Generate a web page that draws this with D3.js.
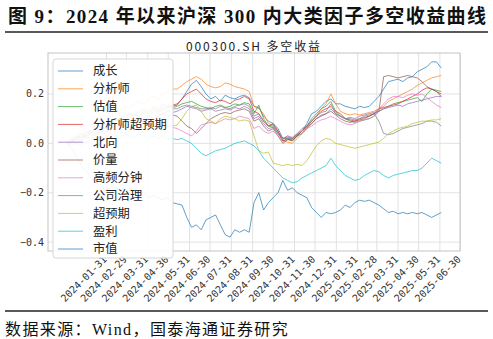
<!DOCTYPE html>
<html>
<head>
<meta charset="utf-8">
<script src="https://cdn.jsdelivr.net/npm/d3@7/dist/d3.min.js"></script>
<style>
  body { margin: 0; background: #fff; }
</style>
</head>
<body>
<svg id="chart"></svg>
<script>
// Weekly sample dates
var dates = ["2023-12-04","2023-12-11","2023-12-18","2023-12-25",
  "2024-01-01","2024-01-08","2024-01-15","2024-01-22","2024-01-29",
  "2024-02-05","2024-02-12","2024-02-19","2024-02-26",
  "2024-03-04","2024-03-11","2024-03-18","2024-03-25",
  "2024-04-01","2024-04-08","2024-04-15","2024-04-22","2024-04-29",
  "2024-05-06","2024-05-13","2024-05-20","2024-05-27",
  "2024-06-03","2024-06-10","2024-06-17","2024-06-24",
  "2024-07-01","2024-07-08","2024-07-15","2024-07-22","2024-07-29",
  "2024-08-05","2024-08-12","2024-08-19","2024-08-26",
  "2024-09-02","2024-09-09","2024-09-16","2024-09-23","2024-09-30",
  "2024-10-07","2024-10-14","2024-10-21","2024-10-28",
  "2024-11-04","2024-11-11","2024-11-18","2024-11-25",
  "2024-12-02","2024-12-09","2024-12-16","2024-12-23","2024-12-30",
  "2025-01-06","2025-01-13","2025-01-20","2025-01-27",
  "2025-02-03","2025-02-10","2025-02-17","2025-02-24",
  "2025-03-03","2025-03-10","2025-03-17","2025-03-24","2025-03-31",
  "2025-04-07","2025-04-14","2025-04-21","2025-04-28",
  "2025-05-05","2025-05-12","2025-05-19","2025-05-26","2025-06-02"];

// Long-short returns per factor
var chengzhang = [0,0.01,0.03,0.02,0.04,0.05,0.04,0.06,0.08,0.07,0.09,0.10,0.09,0.11,0.12,0.11,0.13,0.12,0.14,0.13,0.15,0.14,0.15,
  0.155,0.18,0.21,0.24,0.255,0.23,0.20,0.18,0.19,0.17,0.195,0.185,0.18,0.19,0.195,0.185,
  0.15,0.145,0.11,0.09,0.08,0.06,0.02,0.02,0.015,0.03,0.05,0.08,0.12,0.13,0.15,0.17,0.18,0.16,
  0.16,0.15,0.145,0.14,0.15,0.145,0.15,0.17,0.19,0.22,0.25,0.255,0.26,0.25,0.265,0.27,0.29,0.30,0.31,0.33,0.33,0.305];
var fenxishi = [0,0.02,0.03,0.05,0.06,0.08,0.07,0.09,0.11,0.10,0.12,0.13,0.15,0.14,0.16,0.17,0.16,0.18,0.19,0.18,0.20,0.21,0.22,
  0.22,0.235,0.25,0.26,0.27,0.26,0.24,0.23,0.225,0.23,0.245,0.24,0.23,0.225,0.22,0.21,
  0.15,0.14,0.12,0.08,0.07,0.05,0.01,0.005,0,0.02,0.04,0.06,0.09,0.11,0.14,0.16,0.20,0.16,
  0.13,0.12,0.115,0.12,0.115,0.12,0.125,0.13,0.14,0.15,0.17,0.18,0.19,0.20,0.21,0.22,0.235,0.245,0.255,0.265,0.27,0.275];
var guzhi = [0,0.02,0.01,0.03,0.05,0.04,0.06,0.07,0.06,0.08,0.09,0.10,0.09,0.11,0.12,0.11,0.13,0.12,0.14,0.13,0.14,0.15,0.145,
  0.15,0.16,0.165,0.17,0.16,0.15,0.145,0.14,0.15,0.155,0.145,0.15,0.16,0.155,0.165,0.16,
  0.12,0.155,0.10,0.07,0.065,0.04,0.01,0.02,0.01,0.03,0.05,0.07,0.10,0.12,0.14,0.15,0.17,0.13,
  0.11,0.10,0.09,0.085,0.09,0.095,0.10,0.11,0.13,0.14,0.15,0.16,0.165,0.17,0.175,0.18,0.185,0.17,0.20,0.22,0.215,0.21];
var fxsChaoyuqi = [0,0.01,0.02,0.04,0.03,0.05,0.06,0.05,0.07,0.08,0.10,0.09,0.11,0.12,0.11,0.13,0.14,0.13,0.15,0.14,0.16,0.15,0.155,
  0.16,0.18,0.20,0.21,0.22,0.20,0.18,0.17,0.165,0.175,0.17,0.16,0.175,0.18,0.19,0.18,
  0.13,0.12,0.09,0.07,0.08,0.05,0.01,0.015,0.02,0.035,0.05,0.07,0.09,0.11,0.13,0.14,0.15,0.13,
  0.12,0.10,0.095,0.09,0.095,0.10,0.11,0.12,0.14,0.145,0.15,0.155,0.16,0.17,0.18,0.19,0.20,0.215,0.225,0.22,0.21,0.20];
var beixiang = [0,0.01,0,0.02,0.03,0.02,0.04,0.05,0.04,0.06,0.07,0.08,0.07,0.09,0.10,0.09,0.11,0.10,0.12,0.11,0.12,0.13,0.125,
  0.13,0.14,0.15,0.145,0.14,0.13,0.135,0.14,0.13,0.135,0.14,0.135,0.145,0.14,0.15,0.14,
  0.10,0.11,0.08,0.06,0.065,0.04,0.02,0.03,0.02,0.035,0.05,0.065,0.08,0.10,0.115,0.12,0.14,0.12,
  0.11,0.10,0.105,0.10,0.11,0.115,0.12,0.125,0.13,0.14,0.145,0.15,0.155,0.15,0.16,0.165,0.17,0.175,0.18,0.185,0.19,0.19];
var jialiang = [0,0.01,0.02,0.01,0.03,0.04,0.03,0.05,0.06,0.05,0.07,0.08,0.07,0.09,0.08,0.10,0.09,0.11,0.10,0.11,0.12,0.11,0.115,
  0.11,0.09,0.07,0.06,0.04,0.06,0.08,0.10,0.11,0.12,0.125,0.12,0.13,0.135,0.14,0.13,
  0.09,0.10,0.07,0.05,0.06,0.03,0,0.015,0.01,0.03,0.04,0.06,0.08,0.10,0.11,0.12,0.13,0.115,
  0.10,0.09,0.085,0.09,0.10,0.105,0.11,0.12,0.13,0.27,0.275,0.27,0.265,0.27,0.275,0.27,0.265,0.25,0.23,0.22,0.21,0.19];
var gaopin = [0,-0.01,0,0.01,0,0.02,0.01,0.03,0.02,0.04,0.03,0.05,0.04,0.06,0.05,0.07,0.06,0.05,0.07,0.06,0.08,0.07,0.065,
  0.06,0.05,0.04,0.03,0.05,0.075,0.08,0.085,0.08,0.09,0.10,0.095,0.10,0.11,0.105,0.10,
  0.06,0.07,0.05,0.04,0.05,0.03,0.015,0.03,0.025,0.04,0.05,0.06,0.07,0.085,0.095,0.10,0.11,0.10,
  0.09,0.08,0.075,0.08,0.09,0.095,0.10,0.11,0.14,0.16,0.18,0.19,0.19,0.185,0.195,0.20,0.195,0.20,0.185,0.17,0.155,0.145];
var zhili = [0,0,0.02,0.03,0.02,0.04,0.05,0.04,0.06,0.07,0.08,0.07,0.09,0.10,0.09,0.11,0.12,0.11,0.13,0.12,0.14,0.13,0.14,
  0.14,0.15,0.155,0.15,0.145,0.14,0.14,0.145,0.14,0.15,0.145,0.14,0.15,0.155,0.16,0.15,
  0.11,0.12,0.09,0.07,0.075,0.045,0.02,0.025,0.02,0.04,0.06,0.07,0.09,0.11,0.125,0.13,0.16,0.12,
  0.11,0.10,0.10,0.095,0.10,0.11,0.115,0.12,0.09,0.04,0.035,0.04,0.05,0.06,0.065,0.07,0.075,0.08,0.09,0.09,0.085,0.07];
var chaoyuqi = [0,0.01,0.02,0.01,0.03,0.02,0.04,0.03,0.05,0.04,0.06,0.05,0.07,0.06,0.08,0.07,0.06,0.08,0.07,0.09,0.08,0.07,0.07,
  0.075,0.10,0.13,0.15,0.155,0.13,0.10,0.09,0.08,0.10,0.11,0.105,0.10,0.09,0.095,0.09,
  0.03,-0.03,-0.04,-0.035,-0.08,-0.085,-0.09,-0.085,-0.09,-0.085,-0.09,-0.07,-0.04,-0.01,0.01,0.02,0.015,0,
  -0.005,-0.01,-0.015,-0.02,-0.015,-0.01,-0.005,0,0.005,0.02,0.04,0.05,0.06,0.065,0.07,0.08,0.085,0.09,0.09,0.095,0.095,0.10];
var yingli = [0,0.01,0,-0.01,0.01,0,-0.02,0,0.02,0.01,0.03,0.02,0.04,0.03,0.02,0.04,0.03,0.02,0.03,0.02,0.03,0.02,0.02,
  0.015,0.02,0.01,0,-0.02,-0.04,-0.05,-0.04,-0.03,-0.025,-0.02,-0.01,0,0.005,0.01,0,
  -0.01,-0.03,-0.06,-0.08,-0.10,-0.12,-0.14,-0.15,-0.16,-0.155,-0.14,-0.13,-0.12,-0.11,-0.10,-0.09,-0.06,-0.09,
  -0.11,-0.13,-0.14,-0.15,-0.145,-0.13,-0.12,-0.11,-0.115,-0.13,-0.14,-0.13,-0.125,-0.12,-0.115,-0.11,-0.11,-0.10,-0.08,-0.06,-0.07,-0.08];
var shizhi = [0,-0.02,-0.05,-0.09,-0.11,-0.14,-0.16,-0.17,-0.19,-0.18,-0.17,-0.19,-0.18,-0.20,-0.19,-0.21,-0.20,-0.22,-0.21,-0.22,-0.23,-0.22,-0.24,
  -0.245,-0.25,-0.30,-0.34,-0.33,-0.35,-0.31,-0.30,-0.29,-0.33,-0.37,-0.38,-0.35,-0.36,-0.35,-0.36,
  -0.24,-0.20,-0.27,-0.24,-0.22,-0.20,-0.15,-0.19,-0.18,-0.20,-0.21,-0.22,-0.26,-0.28,-0.30,-0.28,-0.285,-0.28,
  -0.27,-0.25,-0.26,-0.24,-0.23,-0.235,-0.23,-0.24,-0.25,-0.265,-0.28,-0.275,-0.285,-0.28,-0.285,-0.28,-0.285,-0.28,-0.29,-0.30,-0.29,-0.28];

var seriesNames = ["成长", "分析师", "估值", "分析师超预期", "北向", "价量", "高频分钟", "公司治理", "超预期", "盈利", "市值"];
var seriesValues = [chengzhang, fenxishi, guzhi, fxsChaoyuqi, beixiang, jialiang, gaopin, zhili, chaoyuqi, yingli, shizhi];
var colours = ["#1f77b4", "#ff7f0e", "#2ca02c", "#d62728", "#9467bd", "#8c564b", "#e377c2", "#7f7f7f", "#bcbd22", "#17becf", "#1f77b4"];

// Axis ticks
var tickDates = ["2024-01-31","2024-02-29","2024-03-31","2024-04-30","2024-05-31","2024-06-30",
  "2024-07-31","2024-08-31","2024-09-30","2024-10-31","2024-11-30","2024-12-31",
  "2025-01-31","2025-02-28","2025-03-31","2025-04-30","2025-05-31","2025-06-30"];
var yTicks = [-0.4, -0.2, 0.0, 0.2];

// Size of page & plot area
var width = 493,
    height = 339,
    plot = { left: 48, right: 460, top: 53, bottom: 251 };

var parse = d3.timeParse("%Y-%m-%d");
var days = dates.map(parse);
var ticks = tickDates.map(parse);

var svg = d3.select("#chart")
  .attr("width", width)
  .attr("height", height)
  .style("display", "block")
  .style("background", "#fff");

// x domain padded 5% each side like matplotlib
var t0 = days[0].getTime(), t1 = days[days.length - 1].getTime(), pad = (t1 - t0) * 0.05;
var x = d3.scaleTime()
  .domain([new Date(t0 - pad), new Date(t1 + pad)])
  .range([plot.left, plot.right]);

var y = d3.scaleLinear()
  .domain([-0.436, 0.366])
  .range([plot.bottom, plot.top]);

// Figure title & rules
svg.append("text")
  .attr("x", 8)
  .attr("y", 23)
  .attr("textLength", 478)
  .attr("lengthAdjust", "spacing")
  .style("font-family", "'Liberation Serif', 'Noto Sans CJK SC', serif")
  .style("font-size", "19px")
  .style("font-weight", "bold")
  .attr("fill", "#111")
  .text("图 9：2024 年以来沪深 300 内大类因子多空收益曲线");

svg.append("line")
  .attr("x1", 5).attr("x2", 488)
  .attr("y1", 32).attr("y2", 32)
  .attr("stroke", "#222")
  .attr("stroke-width", 1.3);

svg.append("line")
  .attr("x1", 5).attr("x2", 488)
  .attr("y1", 311).attr("y2", 311)
  .attr("stroke", "#222")
  .attr("stroke-width", 1.3);

svg.append("text")
  .attr("x", 5)
  .attr("y", 335)
  .style("font-family", "'Liberation Serif', 'Noto Sans CJK SC', serif")
  .style("font-size", "16px")
  .style("letter-spacing", "1.4px")
  .attr("fill", "#111")
  .text("数据来源：Wind，国泰海通证券研究");

// Chart subtitle
svg.append("text")
  .attr("x", 186)
  .attr("y", 51)
  .attr("textLength", 134)
  .attr("lengthAdjust", "spacing")
  .style("font-family", "'Noto Sans CJK SC', sans-serif")
  .style("font-size", "12px")
  .attr("fill", "#222")
  .text("000300.SH  多空收益");

// Grid lines
var grid = svg.append("g");
grid.selectAll(".vgrid")
  .data(ticks)
  .enter().append("line")
  .attr("x1", function(d) { return x(d); })
  .attr("x2", function(d) { return x(d); })
  .attr("y1", plot.top).attr("y2", plot.bottom)
  .attr("stroke", "#e2e2e2")
  .attr("stroke-width", 1);
grid.selectAll(".hgrid")
  .data(yTicks)
  .enter().append("line")
  .attr("x1", plot.left).attr("x2", plot.right)
  .attr("y1", function(d) { return y(d); })
  .attr("y2", function(d) { return y(d); })
  .attr("stroke", "#e2e2e2")
  .attr("stroke-width", 1);

// Series lines
var line = d3.line()
  .x(function(d, i) { return x(days[i]); })
  .y(function(d) { return y(d); });

svg.append("g")
  .selectAll("path")
  .data(seriesValues)
  .enter().append("path")
  .attr("d", line)
  .attr("fill", "none")
  .attr("stroke", function(d, i) { return colours[i]; })
  .attr("stroke-width", 1)
  .attr("stroke-opacity", 0.7);

// Plot frame
svg.append("rect")
  .attr("x", plot.left).attr("y", plot.top)
  .attr("width", plot.right - plot.left)
  .attr("height", plot.bottom - plot.top)
  .attr("fill", "none")
  .attr("stroke", "#c4c4c4")
  .attr("stroke-width", 1);

// Y tick labels
svg.append("g")
  .selectAll("text")
  .data(yTicks)
  .enter().append("text")
  .attr("x", plot.left - 4)
  .attr("y", function(d) { return y(d); })
  .attr("dy", "0.35em")
  .style("text-anchor", "end")
  .style("font-family", "'DejaVu Sans Mono', monospace")
  .style("font-size", "10px")
  .attr("fill", "#333")
  .text(function(d) { return d3.format(".1f")(d).replace("-", "−"); });

// X tick labels, rotated
svg.append("g")
  .selectAll("text")
  .data(ticks)
  .enter().append("text")
  .attr("transform", function(d) { return "translate(" + (x(d) + 1) + ",260) rotate(-45)"; })
  .style("text-anchor", "end")
  .style("font-family", "'DejaVu Sans Mono', monospace")
  .style("font-size", "10px")
  .attr("fill", "#333")
  .text(function(d, i) { return tickDates[i]; });

// Legend
var legend = svg.append("g");
legend.append("rect")
  .attr("x", 53).attr("y", 59)
  .attr("width", 120).attr("height", 199)
  .attr("rx", 3)
  .attr("fill", "#fff")
  .attr("fill-opacity", 0.9)
  .attr("stroke", "#d6d6d6");

var item = legend.selectAll(".item")
  .data(seriesNames)
  .enter().append("g")
  .attr("transform", function(d, i) { return "translate(0," + (71 + i * 17.8) + ")"; });

item.append("line")
  .attr("x1", 58).attr("x2", 83)
  .attr("stroke", function(d, i) { return colours[i]; })
  .attr("stroke-width", 1)
  .attr("stroke-opacity", 0.7);

item.append("text")
  .attr("x", 93)
  .attr("dy", "0.35em")
  .style("font-family", "'Noto Sans CJK SC', sans-serif")
  .style("font-size", "12.3px")
  .attr("fill", "#222")
  .text(function(d) { return d; });
</script>
</body>
</html>
